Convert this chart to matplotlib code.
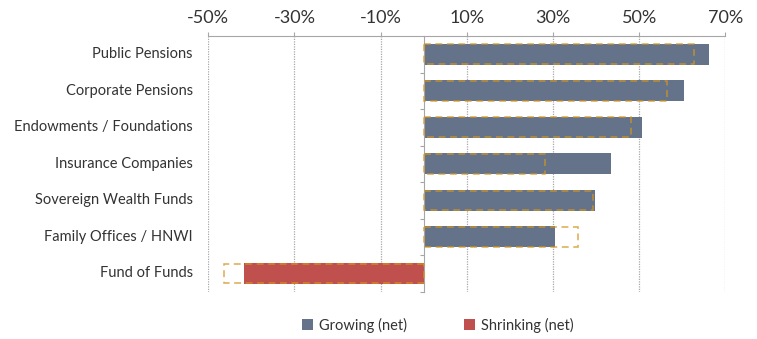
import numpy as np
import matplotlib
matplotlib.use("Agg")
import matplotlib.pyplot as plt
from matplotlib.ticker import FixedLocator, FuncFormatter
from matplotlib.patches import Patch

plt.rcParams['font.family'] = ['Lato', 'DejaVu Sans']

# Investor types, net % growing/shrinking allocation, and prior survey (dashed)
categories = ['Public Pensions', 'Corporate Pensions', 'Endowments / Foundations',
              'Insurance Companies', 'Sovereign Wealth Funds', 'Family Offices / HNWI',
              'Fund of Funds']
net_change = [66.2, 60.3, 50.6, 43.5, 39.8, 30.5, -41.6]
prior_change = [62.8, 56.4, 48.1, 28.2, 39.4, 35.9, -46.4]
x_ticks = [-50, -30, -10, 10, 30, 50, 70]

GROW = '#64728A'
SHRINK = '#C0504D'
DASH = '#D4961E'
TEXT = '#333333'
AXIS = '#A6A6A6'

W, H = 757, 339
fig = plt.figure(figsize=(W / 100, H / 100), dpi=100)
ax = fig.add_axes([208.3 / W, 1 - 291.7 / H, (725.3 - 208.3) / W, (291.7 - 36) / H])

y = np.arange(len(categories))
colors = [GROW if v >= 0 else SHRINK for v in net_change]
ax.barh(y, net_change, height=0.57, color=colors, zorder=2)
ax.barh(y, prior_change, height=0.54, fill=False, edgecolor=DASH, alpha=0.8,
        linestyle=(0, (4.5, 3)), linewidth=1.1, zorder=3)

ax.set_xlim(-50, 70)
ax.set_ylim(6.5, -0.5)

# x axis on top with percentage labels
ax.xaxis.tick_top()
ax.xaxis.set_major_locator(FixedLocator(x_ticks))
ax.xaxis.set_major_formatter(FuncFormatter(lambda v, _: f'{v:.0f}%'))
ax.tick_params(axis='x', direction='out', length=3, width=0.8, color=AXIS,
               labelsize=13, labelcolor=TEXT, pad=4.5)
ax.grid(axis='x', linestyle=(0, (1, 1)), color='#A8A8A8', linewidth=0.9, zorder=0)

# category axis runs through zero
ax.spines['left'].set_position(('data', 0))
ax.spines['left'].set_color(AXIS)
ax.spines['top'].set_color(AXIS)
ax.spines['right'].set_visible(False)
ax.spines['bottom'].set_visible(False)
ax.set_yticks(y)
ax.set_yticklabels([])
ax.yaxis.set_minor_locator(FixedLocator(np.arange(len(categories)) + 0.5))
ax.tick_params(axis='y', which='major', length=0)
ax.tick_params(axis='y', which='minor', direction='out', length=3, width=0.8, color=AXIS)

for yi, name in zip(y, categories):
    ax.text(-0.03, yi, name, transform=ax.get_yaxis_transform(), ha='right',
            va='center', fontsize=10.5, color=TEXT)

handles = [Patch(facecolor=GROW, label='Growing (net)'),
           Patch(facecolor=SHRINK, label='Shrinking (net)')]
fig.legend(handles=handles, loc='center', bbox_to_anchor=(438 / W, 1 - 325 / H),
           ncol=2, frameon=False, handlelength=0.75, handleheight=0.75,
           handletextpad=0.4, columnspacing=3.9, fontsize=10.5,
           labelcolor=TEXT)

fig.savefig('out.png', dpi=100)
